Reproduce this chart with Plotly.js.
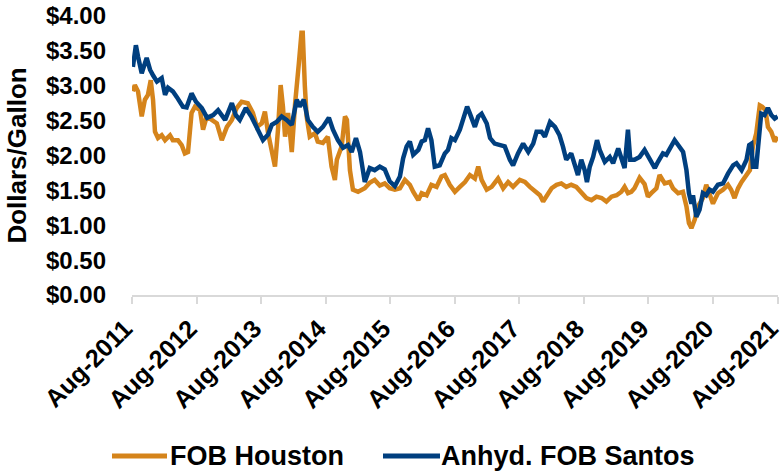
<!DOCTYPE html>
<html>
<head>
<meta charset="utf-8">
<script src="https://cdn.plot.ly/plotly-3.0.1.min.js"></script>
<style>
  html, body { margin: 0; padding: 0; background: #fff; }
  #chart { width: 783px; height: 473px; }
</style>
</head>
<body>
<div id="chart"></div>
<script>
// ---- Data ----
const seriesNames = ["FOB Houston", "Anhyd. FOB Santos"];

const houstonDates = [
  "2011-08-06","2011-08-17","2011-09-04","2011-09-25","2011-10-13","2011-10-30","2011-11-15","2011-11-28",
  "2011-12-09","2011-12-26","2012-01-16","2012-02-04","2012-03-03","2012-03-19","2012-04-17","2012-05-08",
  "2012-05-26","2012-06-13","2012-07-03","2012-07-22","2012-08-20","2012-09-06","2012-09-27","2012-10-25",
  "2012-11-23","2012-12-21","2013-01-19","2013-02-16","2013-03-15","2013-04-12","2013-05-17","2013-06-15",
  "2013-07-08","2013-08-04","2013-08-22","2013-09-09","2013-09-30","2013-10-18","2013-11-04","2013-11-19",
  "2013-12-02","2013-12-14","2013-12-31","2014-01-21","2014-02-09","2014-02-18","2014-03-02","2014-03-17",
  "2014-03-24","2014-04-05","2014-04-15","2014-05-03","2014-06-01","2014-06-17","2014-07-16","2014-08-13",
  "2014-09-03","2014-09-22","2014-10-03","2014-10-30","2014-11-18","2014-11-29","2014-12-16","2015-01-02",
  "2015-01-31","2015-03-10","2015-04-07","2015-05-05","2015-06-03","2015-07-01","2015-07-29","2015-08-27",
  "2015-09-25","2015-10-23","2015-11-20","2015-12-09","2016-01-07","2016-01-26","2016-02-23","2016-03-21",
  "2016-04-19","2016-05-17","2016-06-05","2016-07-03","2016-08-01","2016-08-29","2016-09-27","2016-10-25",
  "2016-11-22","2016-12-11","2016-12-30","2017-01-28","2017-02-25","2017-04-02","2017-05-01","2017-05-29",
  "2017-06-26","2017-08-03","2017-09-01","2017-09-29","2017-10-27","2017-11-25","2017-12-13","2018-01-02",
  "2018-01-30","2018-02-27","2018-03-26","2018-04-23","2018-05-21","2018-06-19","2018-07-17","2018-08-15",
  "2018-09-13","2018-10-11","2018-11-09","2018-12-06","2019-01-04","2019-02-02","2019-03-01","2019-03-19",
  "2019-04-07","2019-04-26","2019-05-14","2019-06-12","2019-07-10","2019-07-29","2019-08-17","2019-09-15",
  "2019-10-03","2019-11-01","2019-11-30","2019-12-18","2020-01-16","2020-02-12","2020-03-03","2020-03-17",
  "2020-03-31","2020-04-19","2020-05-07","2020-06-04","2020-06-23","2020-07-12","2020-07-31","2020-08-28",
  "2020-09-26","2020-10-24","2020-11-11","2020-11-30","2020-12-20","2021-01-09","2021-02-06","2021-02-25",
  "2021-03-14","2021-04-02","2021-04-22","2021-05-06","2021-05-24","2021-06-07","2021-06-26","2021-07-15",
  "2021-08-01"
];
const houstonPrices = [
  2.92,3.01,2.92,2.56,2.80,2.87,3.08,2.80,
  2.34,2.25,2.29,2.22,2.29,2.22,2.22,2.15,
  2.03,2.05,2.61,2.70,2.65,2.37,2.56,2.51,
  2.46,2.22,2.41,2.51,2.68,2.77,2.75,2.61,
  2.41,2.46,2.63,2.32,2.08,1.84,2.37,3.01,
  2.70,2.27,2.61,2.05,2.75,3.08,3.32,3.76,
  3.76,2.99,2.56,2.27,2.32,2.20,2.18,2.27,
  1.84,1.65,1.94,2.13,2.56,2.51,1.79,1.51,
  1.48,1.53,1.61,1.65,1.57,1.60,1.53,1.51,
  1.53,1.65,1.58,1.48,1.36,1.46,1.43,1.58,
  1.55,1.70,1.72,1.58,1.48,1.55,1.62,1.72,
  1.67,1.84,1.65,1.51,1.55,1.67,1.53,1.62,
  1.55,1.65,1.62,1.55,1.48,1.43,1.34,1.41,
  1.53,1.58,1.60,1.55,1.58,1.55,1.48,1.39,
  1.36,1.41,1.39,1.34,1.41,1.43,1.48,1.55,
  1.46,1.48,1.53,1.68,1.59,1.41,1.46,1.53,
  1.72,1.60,1.62,1.53,1.46,1.48,1.27,1.03,
  0.96,1.08,1.27,1.39,1.58,1.46,1.31,1.46,
  1.51,1.58,1.51,1.39,1.53,1.62,1.72,1.79,
  2.13,2.32,2.72,2.70,2.65,2.41,2.34,2.20,
  2.27
];

const santosDates = [
  "2011-08-06","2011-08-23","2011-09-04","2011-09-25","2011-10-23","2011-11-11","2011-11-28","2011-12-20",
  "2012-01-16","2012-02-04","2012-02-21","2012-03-19","2012-04-10","2012-05-15","2012-06-05","2012-07-03",
  "2012-07-28","2012-08-30","2012-09-29","2012-11-02","2012-11-30","2013-01-09","2013-02-16","2013-03-10",
  "2013-04-02","2013-05-06","2013-06-08","2013-07-06","2013-08-11","2013-09-09","2013-09-30","2013-10-27",
  "2013-11-25","2013-12-23","2014-01-21","2014-02-18","2014-03-07","2014-03-30","2014-04-22","2014-05-20",
  "2014-06-17","2014-07-16","2014-08-19","2014-09-11","2014-10-09","2014-11-07","2014-12-05","2014-12-26",
  "2015-01-19","2015-02-11","2015-03-10","2015-04-07","2015-05-05","2015-06-03","2015-07-01","2015-07-29",
  "2015-08-27","2015-09-25","2015-10-13","2015-11-02","2015-11-20","2015-12-09","2016-01-07","2016-01-26",
  "2016-02-13","2016-03-02","2016-03-21","2016-04-09","2016-05-07","2016-06-05","2016-06-23","2016-07-12",
  "2016-08-01","2016-08-29","2016-09-27","2016-10-09","2016-10-25","2016-11-22","2016-12-11","2016-12-30",
  "2017-01-28","2017-02-16","2017-03-14","2017-04-12","2017-05-10","2017-06-08","2017-06-26","2017-07-24",
  "2017-08-22","2017-09-20","2017-10-18","2017-11-06","2017-12-04","2017-12-23","2018-01-21","2018-02-18",
  "2018-03-16","2018-04-04","2018-04-23","2018-05-21","2018-06-10","2018-06-28","2018-07-17","2018-08-05",
  "2018-08-18","2018-09-03","2018-09-22","2018-10-14","2018-10-29","2018-11-27","2018-12-25","2019-01-13",
  "2019-02-11","2019-03-01","2019-03-19","2019-04-07","2019-04-20","2019-05-14","2019-06-12","2019-07-10",
  "2019-08-08","2019-09-06","2019-09-24","2019-10-22","2019-11-10","2019-12-09","2019-12-27","2020-01-16",
  "2020-02-13","2020-03-03","2020-03-17","2020-03-31","2020-04-09","2020-04-28","2020-05-16","2020-06-04",
  "2020-06-23","2020-07-12","2020-07-31","2020-08-28","2020-09-26","2020-10-24","2020-11-22","2020-12-11",
  "2021-01-09","2021-02-06","2021-02-21","2021-03-05","2021-03-14","2021-04-02","2021-04-17","2021-04-30",
  "2021-05-19","2021-06-07","2021-06-26","2021-07-15","2021-08-01"
];
const santosPrices = [
  3.27,3.58,3.42,3.18,3.40,3.23,3.15,3.06,
  3.11,2.87,2.97,2.92,2.84,2.70,2.69,2.89,
  2.77,2.68,2.54,2.58,2.65,2.51,2.75,2.58,
  2.51,2.68,2.55,2.40,2.22,2.30,2.44,2.48,
  2.56,2.51,2.44,2.80,2.70,2.80,2.51,2.41,
  2.34,2.41,2.54,2.37,2.22,2.11,2.15,2.05,
  2.25,2.05,1.62,1.82,1.79,1.84,1.80,1.63,
  1.56,1.70,1.96,2.13,2.20,2.01,2.08,2.20,
  2.22,2.39,2.22,1.84,1.86,2.03,2.08,2.25,
  2.22,2.37,2.63,2.70,2.60,2.41,2.56,2.60,
  2.46,2.25,2.17,2.15,2.13,1.94,1.86,2.03,
  2.17,2.05,2.17,2.34,2.34,2.27,2.48,2.41,
  2.29,2.13,1.94,2.03,1.89,1.72,1.94,1.79,
  1.62,1.84,1.98,2.22,2.08,1.91,1.98,1.89,
  2.10,1.94,1.82,2.37,1.94,1.94,1.98,2.08,
  1.94,1.82,1.91,2.03,2.01,2.15,2.22,2.15,
  2.05,1.79,1.46,1.31,1.43,1.12,1.22,1.46,
  1.43,1.51,1.48,1.58,1.60,1.74,1.86,1.89,
  1.79,1.94,2.15,2.17,1.84,1.84,2.27,2.60,
  2.58,2.68,2.58,2.53,2.56
];

const xTickValues = ["2011-08-01","2012-08-01","2013-08-01","2014-08-01","2015-08-01","2016-08-01",
                     "2017-08-01","2018-08-01","2019-08-01","2020-08-01","2021-08-01"];
const xTickLabels = ["Aug-2011","Aug-2012","Aug-2013","Aug-2014","Aug-2015","Aug-2016",
                     "Aug-2017","Aug-2018","Aug-2019","Aug-2020","Aug-2021"];
const yTickValues = [0, 0.5, 1, 1.5, 2, 2.5, 3, 3.5, 4];
const yTickLabels = ["$0.00","$0.50","$1.00","$1.50","$2.00","$2.50","$3.00","$3.50","$4.00"];

// ---- Styling ----
const ORANGE = "#D5841B";
const BLUE = "#003F7F";
const FONT = "Liberation Sans, Arial, Helvetica, sans-serif";

const W = 783, H = 473;
const M = { l: 132, r: 5, t: 16, b: 178 };
const plotW = W - M.l - M.r, plotH = H - M.t - M.b;
const px2x = p => (p - M.l) / plotW;
const px2y = p => (H - M.b - p) / plotH;

const traces = [
  { x: houstonDates, y: houstonPrices, name: seriesNames[0], type: "scatter", mode: "lines",
    line: { color: ORANGE, width: 4.5 }, showlegend: false },
  { x: santosDates, y: santosPrices, name: seriesNames[1], type: "scatter", mode: "lines",
    line: { color: BLUE, width: 4.5 }, showlegend: false }
];

const legendY = px2y(456);
const layout = {
  width: W, height: H,
  margin: M,
  paper_bgcolor: "#ffffff", plot_bgcolor: "#ffffff",
  font: { family: FONT, color: "#000000", size: 24, weight: 700 },
  showlegend: false,
  xaxis: {
    type: "date",
    range: ["2011-08-01", "2021-08-03"],
    tickmode: "array", tickvals: xTickValues, ticktext: xTickLabels,
    tickangle: -45,
    tickfont: { family: FONT, size: 25, color: "#000", weight: 700 },
    ticklabelshift: -7,
    ticklabeloverflow: "allow",
    showgrid: false, zeroline: false,
    showline: true, linecolor: "#d9d9d9", linewidth: 2,
    ticks: "outside", ticklen: 7, tickwidth: 2, tickcolor: "#d9d9d9",
    automargin: false, fixedrange: true
  },
  yaxis: {
    range: [0, 4],
    tickmode: "array", tickvals: yTickValues, ticktext: yTickLabels,
    tickfont: { family: FONT, size: 24, color: "#000", weight: 700 },
    showgrid: false, zeroline: false, showline: false, ticks: "",
    ticklabelstandoff: 25,
    title: { text: "Dollars/Gallon", font: { family: FONT, size: 26, color: "#000", weight: 700 }, standoff: 11 },
    automargin: false, fixedrange: true
  },
  shapes: [
    { type: "line", xref: "paper", yref: "paper", x0: px2x(112), x1: px2x(167), y0: legendY, y1: legendY,
      line: { color: ORANGE, width: 5 } },
    { type: "line", xref: "paper", yref: "paper", x0: px2x(383), x1: px2x(440), y0: legendY, y1: legendY,
      line: { color: BLUE, width: 5 } }
  ],
  annotations: [
    { xref: "paper", yref: "paper", x: px2x(168), y: legendY, xanchor: "left", yanchor: "middle",
      text: seriesNames[0], showarrow: false,
      font: { family: FONT, size: 27, color: "#000", weight: 700 } },
    { xref: "paper", yref: "paper", x: px2x(439), y: legendY, xanchor: "left", yanchor: "middle",
      text: seriesNames[1], showarrow: false,
      font: { family: FONT, size: 27, color: "#000", weight: 700 } }
  ]
};

Plotly.newPlot("chart", traces, layout, { staticPlot: true, displayModeBar: false });
</script>
</body>
</html>
